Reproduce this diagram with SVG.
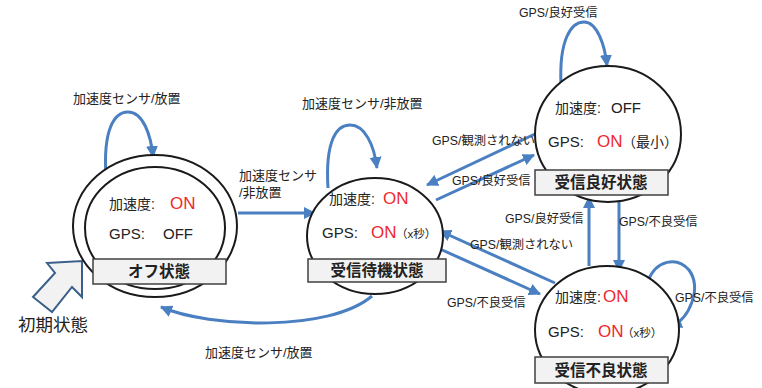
<svg xmlns="http://www.w3.org/2000/svg" width="762" height="388" viewBox="0 0 762 388">
<defs>
<style>
text{font-family:"Liberation Sans","Noto Sans CJK JP",sans-serif;fill:#222}
.st{fill:#fff;stroke:#1a1a1a;stroke-width:2}
.box{fill:#f2f2f2;stroke:#404040;stroke-width:1.5}
.bl{font-size:15.5px;font-weight:bold;text-anchor:middle}
.k{font-size:14px}
.g{font-size:15px}
.on{font-size:17px;fill:#f0282d}
.sm{font-size:11.5px}
.el{font-size:12.3px}
.ea{font-size:13px}
.c{fill:none;stroke:#4a7fc1;stroke-width:3}
</style>
<marker id="ah" markerUnits="userSpaceOnUse" markerWidth="12" markerHeight="12" refX="11" refY="6" orient="auto">
<path d="M0,0 L12,6 L0,12 z" fill="#4a7fc1"/>
</marker>
</defs>
<rect width="762" height="388" fill="#fff"/>

<g id="connectors">
<path class="c" marker-end="url(#ah)" d="M106,176 C103,130 114,112 128,112 C143,112 151,135 153,157"/>
<path class="c" marker-end="url(#ah)" d="M238,213 L315,213"/>
<path class="c" marker-end="url(#ah)" d="M328,188 C325,140 337,125 350,125 C365,125 374,145 377,168"/>
<path class="c" marker-end="url(#ah)" d="M561,84 C559,40 571,22 584,22 C597,22 605,45 607,66"/>
<path class="c" marker-end="url(#ah)" d="M648,281 C656,260 677,256 689,270 C702,288 690,318 671,327"/>
<path class="c" marker-end="url(#ah)" d="M535,134 L427,185"/>
<path class="c" marker-end="url(#ah)" d="M436,200 L534,155"/>
<path class="c" marker-end="url(#ah)" d="M555,283 L440,231"/>
<path class="c" marker-end="url(#ah)" d="M440,249 L540,294"/>
<path class="c" marker-end="url(#ah)" d="M619,202 L619,271"/>
<path class="c" marker-end="url(#ah)" d="M589,266 L589,197"/>
<path class="c" marker-end="url(#ah)" d="M372,296 C330,332 210,328 161,307"/>
</g>

<g id="initial">
<polygon points="47,263 82,261 82,297 72,287 52,312 33,297 55,273" fill="#f2f2f2" stroke="#3a5f8a" stroke-width="2"/>
<text x="18" y="331" style="font-size:17.5px">初期状態</text>
</g>

<g id="off">
<ellipse class="st" cx="155" cy="226" rx="82" ry="71"/>
<ellipse class="st" cx="155" cy="228" rx="70" ry="61"/>
<text class="k" x="109" y="209">加速度:</text>
<text class="on" x="170" y="209">ON</text>
<text class="g" x="109" y="239">GPS:</text>
<text class="g" x="163" y="239">OFF</text>
<rect class="box" x="93" y="259" width="133" height="25"/>
<text class="bl" x="159" y="277">オフ状態</text>
</g>

<g id="wait">
<ellipse class="st" cx="375" cy="236" rx="68" ry="58"/>
<text class="k" x="329" y="204">加速度:</text>
<text class="on" x="383" y="204">ON</text>
<text class="g" x="322" y="238">GPS:</text>
<text class="on" x="371" y="238">ON</text>
<text class="sm" x="396" y="238">（x秒）</text>
<rect class="box" x="308" y="259" width="138" height="23"/>
<text class="bl" x="377" y="276">受信待機状態</text>
</g>

<g id="good">
<ellipse class="st" cx="608" cy="134" rx="73" ry="68"/>
<text class="k" x="555" y="113">加速度:</text>
<text class="g" x="611" y="113">OFF</text>
<text class="g" x="548" y="147">GPS:</text>
<text class="on" x="597" y="147">ON</text>
<text class="k" x="622" y="147">（最小）</text>
<rect class="box" x="535" y="170" width="133" height="25"/>
<text class="bl" x="601" y="188">受信良好状態</text>
</g>

<g id="bad">
<ellipse class="st" cx="607" cy="330" rx="72" ry="64"/>
<text class="k" x="555" y="302">加速度:</text>
<text class="on" x="603" y="302">ON</text>
<text class="g" x="548" y="337">GPS:</text>
<text class="on" x="598" y="337">ON</text>
<text class="sm" x="622" y="337">（x秒）</text>
<rect class="box" x="535" y="357" width="133" height="26"/>
<text class="bl" x="601" y="376">受信不良状態</text>
</g>

<g id="labels">
<text class="ea" x="73" y="103">加速度センサ/放置</text>
<text class="ea" x="302" y="108">加速度センサ/非放置</text>
<text class="ea" x="239" y="180">加速度センサ</text>
<text class="ea" x="239" y="197">/非放置</text>
<text class="el" x="519" y="17">GPS/良好受信</text>
<text class="el" x="432" y="145">GPS/観測されない</text>
<text class="el" x="452" y="185">GPS/良好受信</text>
<text class="el" x="470" y="249">GPS/観測されない</text>
<text class="el" x="447" y="307">GPS/不良受信</text>
<text class="el" x="505" y="223">GPS/良好受信</text>
<text class="el" x="619" y="226">GPS/不良受信</text>
<text class="el" x="675" y="302">GPS/不良受信</text>
<text class="ea" x="205" y="357">加速度センサ/放置</text>
</g>
</svg>
